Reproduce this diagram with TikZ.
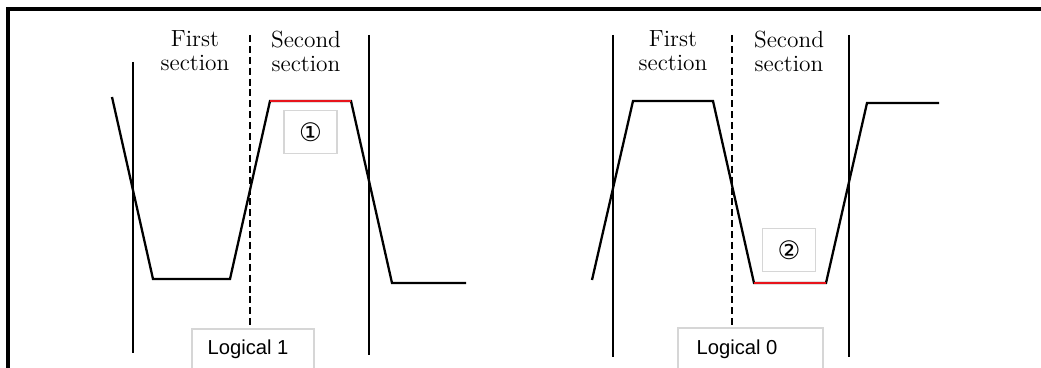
\documentclass[tikz,border=0pt]{standalone}
\usepackage{fontspec}
\newfontfamily\tagfont{Liberation Sans}
\newfontfamily\markfont{DejaVu Sans}
\definecolor{ink}{HTML}{000000}
\definecolor{hold}{HTML}{E8141B}
\definecolor{rim}{HTML}{D6D6D6}
\tikzset{wave/.style={draw=ink,line width=1.3pt,line join=miter},
  flat/.style={draw=hold,line width=1.4pt},
  bound/.style={draw=ink,line width=1.3pt},
  split/.style={draw=ink,line width=1.1pt,dash pattern=on 4pt off 2.2pt},
  sect/.style={align=center,inner sep=0pt,font=\fontsize{13.3}{13.7}\selectfont},
  markbox/.style={draw=rim,line width=0.6pt,minimum width=1.06cm,minimum height=0.86cm,
    inner sep=0pt,font=\markfont\fontsize{14.5}{14.5}\selectfont},
  tagbox/.style={draw=rim,line width=0.6pt},
  tagtext/.style={inner sep=0pt,font=\tagfont\fontsize{11.5}{12}\selectfont}}

\begin{document}
\begin{tikzpicture}[x=0.02cm,y=-0.02cm]
\useasboundingbox (0,0) rectangle (1041,368);
\draw[line width=2pt] (8,368) |- (1041,9);

% logical 1
\draw[bound] (133,62) -- (133,353);
\draw[split] (250,35) -- (250,325);
\draw[bound] (369,35) -- (369,355);
\draw[wave] (112,97) -- (153,279) -- (230,279) -- (270,101) -- (351,101) -- (392,283) -- (466,283);
\draw[flat] (270,101) -- (351,101);
\node[sect] (first1) at (195,51) {First\\section};
\node[sect] (second1) at (306,51) {Second\\section};
\node[markbox] (mark1) at (310.5,132) {①};
\draw[tagbox] (192,368) |- (314,329) -- (314,368);
\node[tagtext] (tag1) at (248,349) {Logical 1};

% logical 0
\draw[bound] (613,35) -- (613,357);
\draw[split] (732,35) -- (732,325);
\draw[bound] (849,35) -- (849,357);
\draw[wave] (592,280) -- (633,101) -- (713,101) -- (754,283) -- (826,283) -- (867,103) -- (939,103);
\draw[flat] (754,283) -- (826,283);
\node[sect] (first0) at (673,51) {First\\section};
\node[sect] (second0) at (789,51) {Second\\section};
\node[markbox] (mark0) at (789,250) {②};
\draw[tagbox] (678,368) |- (823,328) -- (823,368);
\node[tagtext] (tag0) at (737,349) {Logical 0};
\end{tikzpicture}
\end{document}
